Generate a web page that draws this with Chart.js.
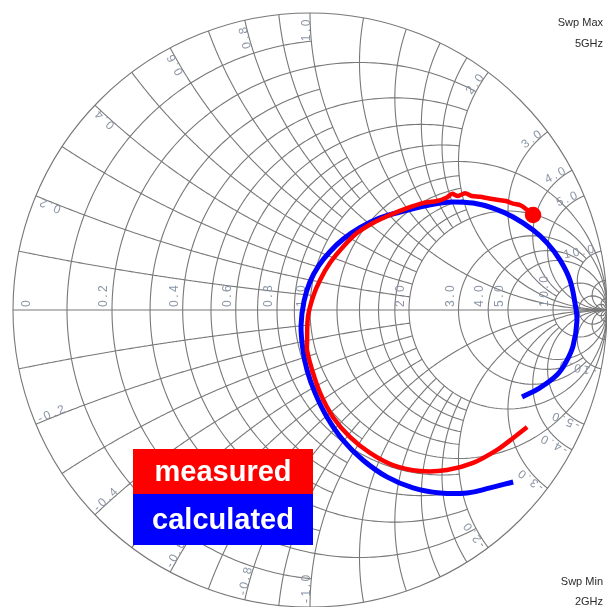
<!DOCTYPE html>
<html>
<head>
<meta charset="utf-8">
<script src="https://cdn.jsdelivr.net/npm/chart.js@4.4.1/dist/chart.umd.min.js"></script>
<style>
  html, body { margin: 0; padding: 0; background: #fff; }
  #smith { display: block; }
</style>
</head>
<body>
<canvas id="smith" width="607" height="607"></canvas>
<script>
// Smith chart: measured vs calculated reflection, 2-5 GHz sweep

const measuredRe = [0.731, 0.684, 0.630, 0.549, 0.461, 0.370, 0.279, 0.202, 0.135, 0.077, 0.034, 0.007,
    -0.010, -0.010, -0.007, 0.010, 0.034, 0.067, 0.111, 0.158, 0.212, 0.269, 0.327, 0.380, 0.428,
    0.461, 0.478, 0.498, 0.522, 0.545, 0.572, 0.600, 0.630, 0.660, 0.684, 0.710, 0.731, 0.751];
const measuredIm = [-0.394, -0.431, -0.471, -0.515, -0.539, -0.542, -0.522, -0.481, -0.428, -0.360, -0.279, -0.202,
    -0.135, -0.111, -0.024, 0.044, 0.101, 0.158, 0.212, 0.259, 0.293, 0.320, 0.343, 0.360, 0.367,
    0.379, 0.391, 0.384, 0.393, 0.384, 0.381, 0.376, 0.371, 0.367, 0.358, 0.352, 0.337, 0.320];

const calculatedRe = [0.684, 0.606, 0.529, 0.438, 0.347, 0.259, 0.178, 0.111, 0.057, 0.017, -0.010, -0.025,
    -0.030, -0.020, 0.000, 0.030, 0.067, 0.111, 0.168, 0.236, 0.303, 0.370, 0.438, 0.481, 0.549,
    0.616, 0.684, 0.751, 0.798, 0.842, 0.875, 0.892, 0.899, 0.886, 0.862, 0.832, 0.774, 0.714];
const calculatedIm = [-0.579, -0.599, -0.616, -0.616, -0.599, -0.562, -0.505, -0.438, -0.360, -0.279, -0.202, -0.125,
    -0.050, 0.030, 0.095, 0.150, 0.196, 0.238, 0.277, 0.310, 0.330, 0.347, 0.360, 0.364, 0.360,
    0.343, 0.313, 0.269, 0.226, 0.168, 0.101, 0.024, -0.034, -0.120, -0.175, -0.218, -0.262, -0.293];

// labelled grid values
const resistanceTicks = [0, 0.2, 0.4, 0.6, 0.8, 1.0, 2.0, 3.0, 4.0, 5.0, 10.0];
const reactanceTicks = [0.2, 0.4, 0.6, 0.8, 1.0, 2.0, 3.0, 4.0, 5.0, 10.0];

// grid lines: [value, how far the line runs along the other family]
const resistanceLines = [[0.1, 1], [0.2, 2], [0.3, 1], [0.4, 2], [0.5, 1], [0.6, 2], [0.7, 1], [0.8, 2], [0.9, 1],
    [1.0, Infinity], [1.2, 2], [1.4, 2], [1.6, 2], [1.8, 2], [2.0, Infinity], [3.0, 10], [4.0, 10],
    [5.0, Infinity], [10.0, Infinity], [20.0, Infinity], [50.0, Infinity]];
const reactanceLines = [[0.1, 1], [0.2, 2], [0.3, 1], [0.4, 2], [0.5, 1], [0.6, 2], [0.7, 1], [0.8, 2], [0.9, 1],
    [1.0, Infinity], [1.2, 2], [1.4, 2], [1.6, 2], [1.8, 2], [2.0, Infinity], [3.0, 10], [4.0, 10],
    [5.0, Infinity], [10.0, Infinity], [20.0, Infinity], [50.0, Infinity]];

const sweepText = { max: ['Swp Max', '5GHz'], min: ['Swp Min', '2GHz'] };

function toGamma(r, x) {
    const d = (r + 1) * (r + 1) + x * x;
    return [(r * r + x * x - 1) / d, 2 * x / d];
}

function fmt(v) {
    return v === 0 ? '0' : v.toFixed(1);
}

const smithGrid = {
    id: 'smithGrid',
    beforeDatasetsDraw(chart) {
        const ctx = chart.ctx;
        const sx = chart.scales.x, sy = chart.scales.y;
        const px = g => sx.getPixelForValue(g);
        const py = g => sy.getPixelForValue(g);
        const cx = px(0), cy = py(0);
        const R = px(1) - cx;

        const path = pts => {
            ctx.beginPath();
            pts.forEach((g, i) => {
                if (i === 0) ctx.moveTo(px(g[0]), py(g[1]));
                else ctx.lineTo(px(g[0]), py(g[1]));
            });
            ctx.stroke();
        };

        ctx.save();
        ctx.strokeStyle = '#787878';
        ctx.lineWidth = 1.1;

        // outer circle (r = 0) and real axis
        ctx.beginPath();
        ctx.arc(cx, cy, R, 0, Math.PI * 2);
        ctx.stroke();
        ctx.beginPath();
        ctx.moveTo(px(-1), cy);
        ctx.lineTo(px(1), cy);
        ctx.stroke();

        const N = 240;
        resistanceLines.forEach(([r, xm]) => {
            const a = Math.atan(xm);
            const pts = [];
            for (let i = 0; i <= N; i++) {
                const phi = -a + 2 * a * i / N;
                pts.push(toGamma(r, Math.tan(phi)));
            }
            path(pts);
        });
        reactanceLines.forEach(([x, rm]) => {
            const a = Math.atan(rm);
            [x, -x].forEach(xv => {
                const pts = [];
                for (let i = 0; i <= N; i++) {
                    pts.push(toGamma(Math.tan(a * i / N), xv));
                }
                path(pts);
            });
        });

        // labels
        ctx.fillStyle = '#8a95a5';
        ctx.font = '12px "Liberation Sans", Arial, sans-serif';
        ctx.letterSpacing = '2.5px';
        ctx.textBaseline = 'alphabetic';

        resistanceTicks.forEach(r => {
            const g = (r - 1) / (r + 1);
            const x0 = r === 0 ? px(g) + 17 : px(g) - 5;
            ctx.save();
            ctx.translate(x0, cy - 3);
            ctx.rotate(-Math.PI / 2);
            ctx.textAlign = 'left';
            ctx.fillText(fmt(r), 0, 0);
            ctx.restore();
        });

        reactanceTicks.forEach(x => {
            const g = toGamma(0, x);
            const th = Math.atan2(g[1], g[0]);
            const d = R - 4;
            // positive reactance: reads outward, ending at the rim
            ctx.save();
            ctx.translate(cx + d * Math.cos(th), cy - d * Math.sin(th));
            ctx.rotate(-th);
            ctx.textAlign = 'right';
            ctx.fillText(fmt(x), 0, 0);
            ctx.restore();
            // negative reactance: starts at the rim, reads inward
            ctx.save();
            ctx.translate(cx + d * Math.cos(th), cy + d * Math.sin(th));
            ctx.rotate(th - Math.PI);
            ctx.textAlign = 'left';
            ctx.fillText('-' + fmt(x), 0, 0);
            ctx.restore();
        });
        ctx.restore();
    },
    afterDraw(chart) {
        const ctx = chart.ctx;
        ctx.save();
        // sweep annotations
        ctx.fillStyle = '#2a2a2a';
        ctx.font = '11px "Liberation Sans", Arial, sans-serif';
        ctx.textAlign = 'right';
        ctx.fillText(sweepText.max[0], 603, 26);
        ctx.fillText(sweepText.max[1], 603, 47);
        ctx.fillText(sweepText.min[0], 603, 585);
        ctx.fillText(sweepText.min[1], 603, 605);

        // legend block
        const boxes = [[449, 45], [494, 51]];
        ctx.font = 'bold 29px "Liberation Sans", Arial, sans-serif';
        ctx.textAlign = 'center';
        ctx.textBaseline = 'middle';
        chart.data.datasets.forEach((ds, i) => {
            const [top, h] = boxes[i];
            ctx.fillStyle = ds.borderColor;
            ctx.fillRect(133, top, 180, h);
            ctx.fillStyle = '#fff';
            ctx.fillText(ds.label, 223, top + h / 2 + 1);
        });
        ctx.restore();
    }
};

const toPoints = (re, im) => re.map((v, i) => ({ x: v, y: im[i] }));

new Chart(document.getElementById('smith'), {
    type: 'scatter',
    data: {
        datasets: [
            {
                label: 'measured',
                data: toPoints(measuredRe, measuredIm),
                borderColor: '#ff0000',
                backgroundColor: '#ff0000',
                borderWidth: 4.5,
                showLine: true,
                tension: 0.3,
                pointRadius: ctx => ctx.dataIndex === measuredRe.length - 1 ? 6 : 0
            },
            {
                label: 'calculated',
                data: toPoints(calculatedRe, calculatedIm),
                borderColor: '#0000ff',
                backgroundColor: '#0000ff',
                borderWidth: 5,
                showLine: true,
                tension: 0.4,
                pointRadius: 0
            }
        ]
    },
    options: {
        responsive: false,
        animation: false,
        layout: { autoPadding: false, padding: { left: 13, top: 13, right: 0, bottom: 0 } },
        scales: {
            x: { type: 'linear', min: -1, max: 1, display: false },
            y: { type: 'linear', min: -1, max: 1, display: false }
        },
        plugins: {
            legend: { display: false },
            tooltip: { enabled: false }
        }
    },
    plugins: [smithGrid]
});
</script>
</body>
</html>
